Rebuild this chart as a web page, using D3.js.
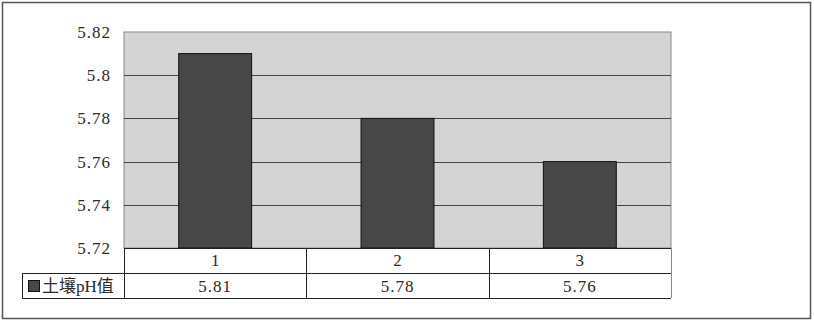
<!DOCTYPE html>
<html>
<head>
<meta charset="utf-8">
<script src="https://cdn.jsdelivr.net/npm/d3@7"></script>
<style>
  html, body { margin: 0; padding: 0; background: #fff; }
  svg text { font-family: "Liberation Serif", "Noto Sans CJK SC", serif; fill: #2a2a2a; }
</style>
</head>
<body>
<svg id="chart" width="814" height="323"></svg>
<script>
const categories = ['1', '2', '3'];
const phValues = [5.81, 5.78, 5.76];
const yTicks = [5.72, 5.74, 5.76, 5.78, 5.8, 5.82];
const seriesName = '土壤pH值';

const svg = d3.select('#chart');
const plot = { left: 124, right: 671, top: 32, bottom: 248 };
const rowH = [248, 273, 298];
const legendLeft = 22;

// outer frame
svg.append('rect')
    .attr('x', 2.5).attr('y', 2.5).attr('width', 808).attr('height', 316)
    .attr('fill', '#fff').attr('stroke', '#555').attr('stroke-width', 1.5);

const x = d3.scaleBand()
    .domain(categories)
    .range([plot.left, plot.right])
    .paddingInner(0.6)
    .paddingOuter(0.3);

const y = d3.scaleLinear()
    .domain([5.72, 5.82])
    .range([plot.bottom, plot.top]);

// plot background
svg.append('rect')
    .attr('x', plot.left).attr('y', plot.top)
    .attr('width', plot.right - plot.left).attr('height', plot.bottom - plot.top)
    .attr('fill', '#d4d4d4').attr('stroke', '#888').attr('stroke-width', 1);

// grid lines
svg.append('g')
    .selectAll('line')
    .data(yTicks.slice(1, -1))
    .enter().append('line')
    .attr('x1', plot.left).attr('x2', plot.right)
    .attr('y1', d => Math.round(y(d)) + 0.5).attr('y2', d => Math.round(y(d)) + 0.5)
    .attr('stroke', '#444').attr('stroke-width', 1);

// bars
svg.append('g')
    .selectAll('rect')
    .data(phValues)
    .enter().append('rect')
    .attr('x', (d, i) => x(categories[i]))
    .attr('width', x.bandwidth())
    .attr('y', d => y(d))
    .attr('height', d => plot.bottom - y(d))
    .attr('fill', '#474747')
    .attr('stroke', '#111').attr('stroke-width', 1);

// y axis labels
const yAxis = d3.axisLeft(y).tickValues(yTicks).tickSize(0).tickPadding(13)
    .tickFormat(d => d3.format('')(+d.toFixed(2)));
svg.append('g')
    .attr('transform', `translate(${plot.left},0)`)
    .call(yAxis)
    .call(g => g.select('.domain').remove())
    .call(g => g.attr('font-family', null))
    .selectAll('text')
    .style('font-size', '17px')
    .style('letter-spacing', '1px')
    .attr('fill', '#2a2a2a');

// data table
const table = svg.append('g').attr('fill', 'none').attr('stroke', '#222').attr('stroke-width', 1);
table.append('line').attr('x1', plot.left).attr('x2', plot.right).attr('y1', rowH[0] + 0.5).attr('y2', rowH[0] + 0.5);
table.append('line').attr('x1', legendLeft).attr('x2', plot.right).attr('y1', rowH[1] + 0.5).attr('y2', rowH[1] + 0.5);
table.append('line').attr('x1', legendLeft).attr('x2', plot.right).attr('y1', rowH[2] + 0.5).attr('y2', rowH[2] + 0.5);
table.append('line').attr('x1', legendLeft + 0.5).attr('x2', legendLeft + 0.5).attr('y1', rowH[1]).attr('y2', rowH[2]);
table.append('line').attr('x1', plot.right + 0.5).attr('x2', plot.right + 0.5).attr('y1', rowH[0]).attr('y2', rowH[2])
    .attr('stroke', '#888');
const colEdges = [plot.left, ...categories.map(c => x(c) + x.bandwidth() / 2 + x.step() / 2)];
table.selectAll('.col').data(colEdges.slice(0, -1))
    .enter().append('line')
    .attr('x1', d => Math.round(d) + 0.5).attr('x2', d => Math.round(d) + 0.5)
    .attr('y1', rowH[0]).attr('y2', rowH[2]);

svg.append('g').selectAll('text')
    .data(categories)
    .enter().append('text')
    .attr('x', d => x(d) + x.bandwidth() / 2)
    .attr('y', rowH[0] + 18)
    .attr('text-anchor', 'middle')
    .style('font-size', '17px')
    .text(d => d);

svg.append('g').selectAll('text')
    .data(phValues)
    .enter().append('text')
    .attr('x', (d, i) => x(categories[i]) + x.bandwidth() / 2)
    .attr('y', rowH[1] + 19)
    .attr('text-anchor', 'middle')
    .style('font-size', '17px')
    .style('letter-spacing', '1px')
    .text(d => d.toFixed(2));

// legend
svg.append('rect')
    .attr('x', 28.5).attr('y', 280.5).attr('width', 11).attr('height', 11)
    .attr('fill', '#474747').attr('stroke', '#111');
svg.append('text')
    .attr('x', 42).attr('y', rowH[1] + 19)
    .style('font-size', '17px')
    .text(seriesName);
</script>
</body>
</html>
